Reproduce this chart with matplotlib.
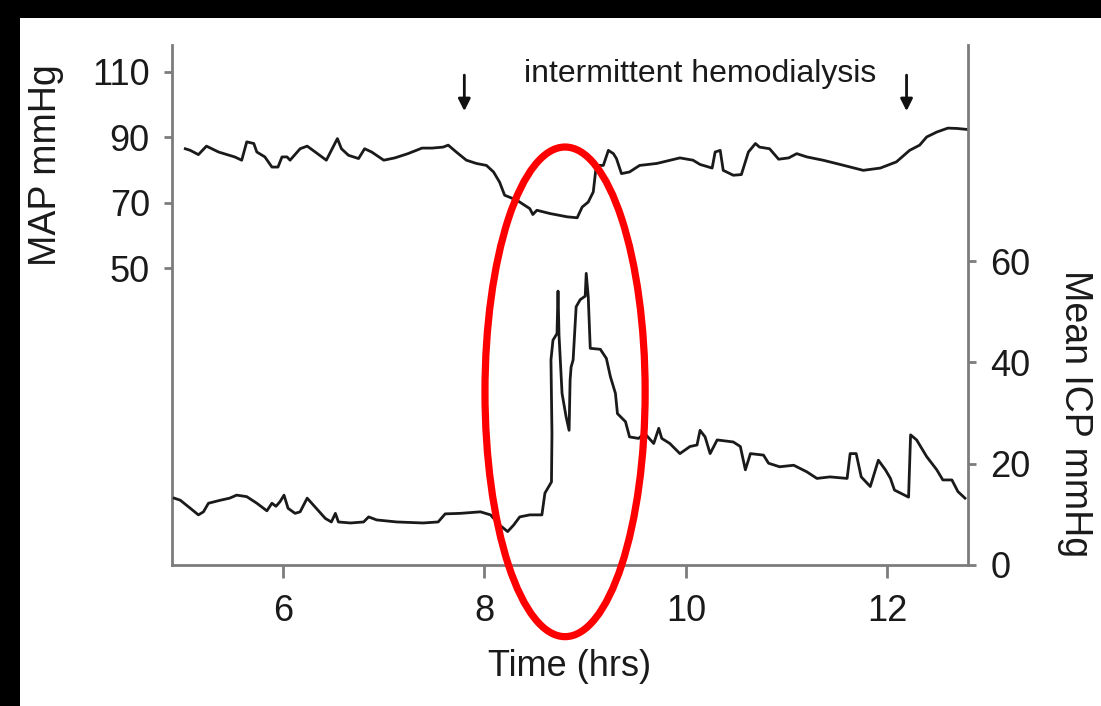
import matplotlib.pyplot as plt
from matplotlib.patches import Ellipse, Rectangle

plt.rcParams['font.family'] = ['Liberation Sans', 'DejaVu Sans']

# mean arterial pressure trace (time in hours, mmHg)
map_t = [5.03, 5.08, 5.16, 5.24, 5.36, 5.52, 5.59, 5.64, 5.71, 5.74, 5.82, 5.89,
         5.95, 5.99, 6.04, 6.07, 6.17, 6.24, 6.32, 6.43, 6.48, 6.54, 6.58, 6.65,
         6.75, 6.81, 6.88, 7.00, 7.11, 7.24, 7.38, 7.48, 7.59, 7.64, 7.72, 7.82,
         7.92, 8.02, 8.09, 8.15, 8.20, 8.32, 8.45, 8.48, 8.52, 8.65, 8.82, 8.92,
         8.97, 9.03, 9.08, 9.11, 9.18, 9.23, 9.28, 9.31, 9.36, 9.44, 9.54, 9.71,
         9.94, 10.07, 10.14, 10.26, 10.29, 10.34, 10.37, 10.47, 10.55, 10.62,
         10.69, 10.73, 10.83, 10.92, 11.02, 11.10, 11.20, 11.36, 11.53, 11.76,
         11.93, 12.09, 12.22, 12.32, 12.39, 12.49, 12.60, 12.69, 12.79]
map_v = [86.5, 86.0, 84.7, 87.3, 85.5, 84.0, 83.0, 88.6, 88.1, 85.5, 84.0, 80.9,
         80.9, 84.0, 84.0, 83.0, 86.5, 87.3, 85.5, 83.0, 86.0, 89.6, 86.5, 84.5,
         83.5, 86.5, 85.5, 83.0, 83.7, 85.0, 86.7, 86.7, 87.0, 87.6, 85.5, 83.0,
         82.0, 81.4, 79.4, 76.3, 72.3, 70.8, 68.2, 66.4, 67.7, 66.7, 65.7, 65.4,
         68.7, 70.2, 73.3, 81.4, 81.4, 86.0, 85.0, 83.5, 78.9, 79.4, 81.4, 82.0,
         83.7, 83.0, 81.7, 80.6, 85.5, 86.0, 79.9, 78.4, 78.6, 85.5,
         88.1, 87.0, 86.5, 83.3, 83.7, 85.0, 84.0, 83.0, 81.7, 79.9,
         80.6, 82.5, 86.0, 87.6, 90.1, 91.6, 92.8, 92.7, 92.4]

# mean intracranial pressure trace (time in hours, mmHg)
icp_t = [4.92, 4.98, 5.08, 5.16, 5.21, 5.26, 5.38, 5.47, 5.54, 5.64, 5.74, 5.84,
         5.89, 5.93, 5.97, 6.01, 6.05, 6.12, 6.17, 6.24, 6.33, 6.42, 6.48, 6.52,
         6.55, 6.67, 6.80, 6.85, 6.93, 7.13, 7.39, 7.54, 7.61, 7.76, 7.96, 8.06,
         8.15, 8.23, 8.29, 8.35, 8.45, 8.57, 8.60, 8.665, 8.67, 8.66, 8.68, 8.72,
         8.73, 8.74, 8.77, 8.81, 8.84, 8.85, 8.86, 8.88, 8.91, 8.95, 9.00, 9.01,
         9.03, 9.05, 9.15, 9.21, 9.25, 9.30, 9.32, 9.40, 9.44, 9.53, 9.59, 9.68,
         9.73, 9.76, 9.84, 9.94, 10.04, 10.11, 10.14, 10.19, 10.24, 10.31, 10.47,
         10.54, 10.59, 10.64, 10.77, 10.82, 10.93, 11.07, 11.20, 11.30, 11.43,
         11.60, 11.63, 11.69, 11.74, 11.83, 11.91, 11.98, 12.03, 12.07, 12.21,
         12.23, 12.29, 12.39, 12.49, 12.55, 12.64, 12.70, 12.77]
icp_v = [13.2, 12.8, 11.2, 9.9, 10.5, 12.2, 12.8, 13.2, 13.8, 13.5, 12.2, 10.7,
         12.2, 11.6, 12.5, 13.8, 11.2, 10.2, 10.5, 13.2, 11.2, 9.2, 8.5, 10.2,
         8.5, 8.3, 8.5, 9.5, 8.9, 8.5, 8.3, 8.5, 10.1, 10.2, 10.5, 9.9,
         7.9, 6.6, 7.9, 9.5, 9.9, 9.9, 14.2, 16.4, 26.0, 40.5, 44.4, 45.7,
         54.1, 45.4, 33.9, 29.3, 26.6, 36.5, 39.1, 40.5, 51.0, 52.4, 53.1, 57.6,
         53.0, 42.8, 42.6, 40.8, 37.2, 33.9, 29.9, 28.3, 25.3, 25.0, 26.0, 24.0,
         27.0, 25.0, 24.0, 22.0, 23.4, 23.7, 26.6, 25.3, 22.0, 24.7, 24.3,
         23.4, 18.8, 22.0, 21.7, 20.1, 19.4, 19.7, 18.4, 17.1, 17.4,
         17.1, 22.0, 22.0, 17.4, 15.5, 20.7, 18.8, 17.1, 14.8, 13.4,
         25.7, 24.7, 21.4, 18.8, 16.8, 16.8, 14.5, 13.2]

map_ticks = [50, 70, 90, 110]
icp_ticks = [0, 20, 40, 60]
time_ticks = [6, 8, 10, 12]
dialysis_marks = [7.80, 12.19]

spine_col = '#7c7c7c'
line_col = '#1a1a1a'
text_col = '#1a1a1a'

fig = plt.figure(figsize=(11.01, 7.06), dpi=100)
fig.patch.set_facecolor('black')
fig.add_artist(Rectangle((20 / 1101, 0), 1, 1 - 18 / 706, transform=fig.transFigure,
                         facecolor='white', edgecolor='none', zorder=-5))

ax1 = fig.add_axes([172 / 1101, 1 - 565 / 706, 796 / 1101, 520 / 706])
ax1.set_facecolor('none')
ax2 = ax1.twinx()

ax1.plot(map_t, map_v, color=line_col, lw=2.0, solid_joinstyle='round')
ax2.plot(icp_t, icp_v, color=line_col, lw=2.0, solid_joinstyle='round')

ax1.set_xlim(4.898, 12.80)
ax1.set_ylim(-40.7, 118.2)
ax2.set_ylim(0, 102.7)

ax1.set_xticks(time_ticks)
ax1.set_yticks(map_ticks)
ax2.set_yticks(icp_ticks)

for s in ['top', 'right']:
    ax1.spines[s].set_visible(False)
for s in ['top', 'left', 'bottom']:
    ax2.spines[s].set_visible(False)
for ax in (ax1, ax2):
    for s in ax.spines.values():
        s.set_color(spine_col)
        s.set_linewidth(2.0)

ax1.tick_params(axis='y', length=6, width=2.0, color=spine_col, labelsize=26, pad=10,
                labelcolor=text_col)
ax1.tick_params(axis='x', length=9, width=2.0, color=spine_col, labelsize=26, pad=12,
                labelcolor=text_col)
ax2.tick_params(axis='y', length=6, width=2.0, color=spine_col, labelsize=26, pad=10,
                labelcolor=text_col)

ax1.set_xlabel('Time (hrs)', fontsize=26, labelpad=14, color=text_col)

fig.text(46 / 1101, 1 - 165 / 706, 'MAP mmHg', rotation=90, fontsize=27,
         ha='center', va='center', color=text_col)
fig.text(1075 / 1101, 1 - 414 / 706, 'Mean ICP mmHg', rotation=270, fontsize=27,
         ha='center', va='center', color=text_col)

# dialysis start / end arrows
for t in dialysis_marks:
    ax1.annotate('', xy=(t, 98.0), xytext=(t, 109.0), annotation_clip=False,
                 arrowprops=dict(arrowstyle='-|>', color='#111111', lw=2.0,
                                 mutation_scale=18, shrinkA=0, shrinkB=0))
ax1.text(10.14, 109.4, 'intermittent hemodialysis', ha='center', va='center',
         fontsize=23, color=text_col)

# highlight around the pressure spike
ax2.add_patch(Ellipse((8.80, 34.2), 1.59, 96.7, fill=False, edgecolor='#ff0000',
                      lw=5.2, clip_on=False, zorder=5))

fig.savefig('out.png', dpi=100, facecolor=fig.get_facecolor())
